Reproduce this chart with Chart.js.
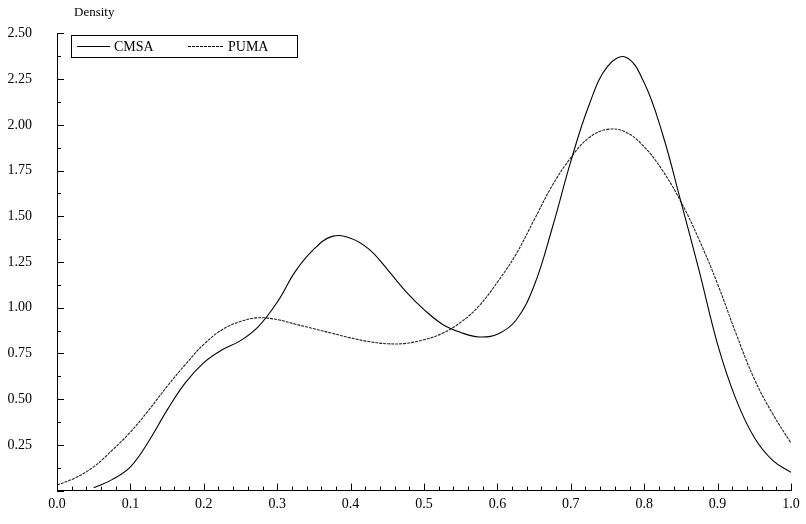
<!DOCTYPE html>
<html>
<head>
<meta charset="utf-8">
<script src="https://cdn.jsdelivr.net/npm/chart.js@4.4.0/dist/chart.umd.min.js"></script>
<style>
    body { margin: 0; background: #fff; }
    #wrap { width: 806px; height: 524px; }
</style>
</head>
<body>
<div id="wrap"><canvas id="density_x" width="806" height="524"></canvas></div>
<script>
// kernel density estimates (step 0.025)
const xCMSA = [0.05, 0.075, 0.1, 0.125, 0.15, 0.175, 0.2, 0.225, 0.25, 0.275, 0.3, 0.325, 0.35, 0.375, 0.4, 0.425, 0.45, 0.475, 0.5, 0.525, 0.55, 0.575, 0.6, 0.625, 0.65, 0.675, 0.7, 0.725, 0.75, 0.775, 0.8, 0.825, 0.85, 0.875, 0.9, 0.925, 0.95, 0.975, 1.0];
const yCMSA = [0.015, 0.06, 0.13, 0.27, 0.44, 0.59, 0.7, 0.77, 0.82, 0.9, 1.03, 1.2, 1.32, 1.39, 1.38, 1.32, 1.21, 1.09, 0.99, 0.91, 0.865, 0.84, 0.855, 0.93, 1.12, 1.44, 1.8, 2.11, 2.32, 2.37, 2.23, 1.95, 1.58, 1.2, 0.8, 0.5, 0.29, 0.165, 0.1];

const xPUMA = [0.0, 0.025, 0.05, 0.075, 0.1, 0.125, 0.15, 0.175, 0.2, 0.225, 0.25, 0.275, 0.3, 0.325, 0.35, 0.375, 0.4, 0.425, 0.45, 0.475, 0.5, 0.525, 0.55, 0.575, 0.6, 0.625, 0.65, 0.675, 0.7, 0.725, 0.75, 0.775, 0.8, 0.825, 0.85, 0.875, 0.9, 0.925, 0.95, 0.975, 1.0];
const yPUMA = [0.03, 0.07, 0.13, 0.22, 0.32, 0.44, 0.57, 0.69, 0.8, 0.88, 0.925, 0.945, 0.935, 0.91, 0.885, 0.86, 0.835, 0.815, 0.803, 0.805, 0.825, 0.86, 0.92, 1.01, 1.14, 1.29, 1.48, 1.67, 1.82, 1.93, 1.975, 1.96, 1.88, 1.75, 1.58, 1.37, 1.13, 0.86, 0.61, 0.42, 0.26];

const seriesNames = ['CMSA', 'PUMA'];
const xTicks = [0, 0.1, 0.2, 0.3, 0.4, 0.5, 0.6, 0.7, 0.8, 0.9, 1.0];
const yTicks = [0.25, 0.5, 0.75, 1.0, 1.25, 1.5, 1.75, 2.0, 2.25, 2.5];
const yTitle = 'Density';

const serif = '"Liberation Serif", "DejaVu Serif", serif';

function toPoints(xs, ys) {
    let pts = [];
    for (let i = 0; i < xs.length; i++) {
        pts.push({ x: xs[i], y: ys[i] });
    }
    return pts;
}

// inward tick marks, title and the boxed legend
const decorPlugin = {
    id: 'decor',
    afterDraw(chart) {
        const ctx = chart.ctx;
        const xs = chart.scales.x;
        const ys = chart.scales.y;
        const area = chart.chartArea;
        ctx.save();
        ctx.strokeStyle = '#000';
        ctx.lineWidth = 1;
        ctx.beginPath();
        // x ticks: major every 0.1, minor every 0.02
        for (let i = 0; i <= 50; i++) {
            let px = Math.round(xs.getPixelForValue(i * 0.02)) + 0.5;
            let len = (i % 5 === 0) ? 7 : 4;
            ctx.moveTo(px, area.bottom);
            ctx.lineTo(px, area.bottom - len);
        }
        // y ticks: major every 0.25, minor in between
        for (let i = 0; i <= 20; i++) {
            let py = Math.round(ys.getPixelForValue(i * 0.125)) + 0.5;
            let len = (i % 2 === 0) ? 7 : 4;
            ctx.moveTo(area.left, py);
            ctx.lineTo(area.left + len, py);
        }
        ctx.stroke();

        ctx.fillStyle = '#000';
        ctx.font = '13px ' + serif;
        ctx.textBaseline = 'middle';
        ctx.textAlign = 'left';
        ctx.fillText(yTitle, 74, 13);

        // legend box
        ctx.strokeRect(71.5, 35.5, 226, 22);
        const items = [
            { x0: 77, x1: 110, tx: 114, dash: [] },
            { x0: 188, x1: 223, tx: 228, dash: [3, 1] },
        ];
        ctx.font = '14px ' + serif;
        items.forEach(function (it, i) {
            ctx.setLineDash(it.dash);
            ctx.beginPath();
            ctx.moveTo(it.x0, 46.5);
            ctx.lineTo(it.x1, 46.5);
            ctx.stroke();
            ctx.setLineDash([]);
            ctx.fillText(seriesNames[i], it.tx, 47);
        });
        ctx.restore();
    }
};

const ctx = document.getElementById('density_x').getContext('2d');
const myChart = new Chart(ctx, {
    type: 'line',
    data: {
        datasets: [
            {
                label: seriesNames[0],
                data: toPoints(xCMSA, yCMSA),
                borderColor: '#000',
                borderWidth: 1.1,
                pointRadius: 0,
                tension: 0.4,
                fill: false,
            },
            {
                label: seriesNames[1],
                data: toPoints(xPUMA, yPUMA),
                borderColor: '#222',
                borderWidth: 1.1,
                borderDash: [3, 1],
                pointRadius: 0,
                tension: 0.4,
                fill: false,
            },
        ],
    },
    options: {
        responsive: false,
        animation: false,
        layout: { padding: { top: 25, right: 15, left: 0, bottom: 0 } },
        plugins: {
            legend: { display: false },
            tooltip: { enabled: false },
        },
        scales: {
            x: {
                type: 'linear',
                min: 0,
                max: 1,
                afterFit(scale) { scale.height = 27; },
                afterBuildTicks(scale) {
                    scale.ticks = xTicks.map(function (v) { return { value: v }; });
                },
                grid: { display: false, drawTicks: false },
                border: { display: true, color: '#000', width: 1 },
                ticks: {
                    color: '#000',
                    padding: 5,
                    font: { family: serif, size: 14 },
                    callback: function (v) { return Number(v).toFixed(1); },
                },
            },
            y: {
                type: 'linear',
                min: 0,
                max: 2.5,
                afterFit(scale) { scale.width = 57; },
                afterBuildTicks(scale) {
                    scale.ticks = yTicks.map(function (v) { return { value: v }; });
                },
                grid: { display: false, drawTicks: false },
                border: { display: true, color: '#000', width: 1 },
                ticks: {
                    color: '#000',
                    padding: 25,
                    font: { family: serif, size: 14 },
                    callback: function (v) { return Number(v).toFixed(2); },
                },
            },
        },
    },
    plugins: [decorPlugin],
});
</script>
</body>
</html>
